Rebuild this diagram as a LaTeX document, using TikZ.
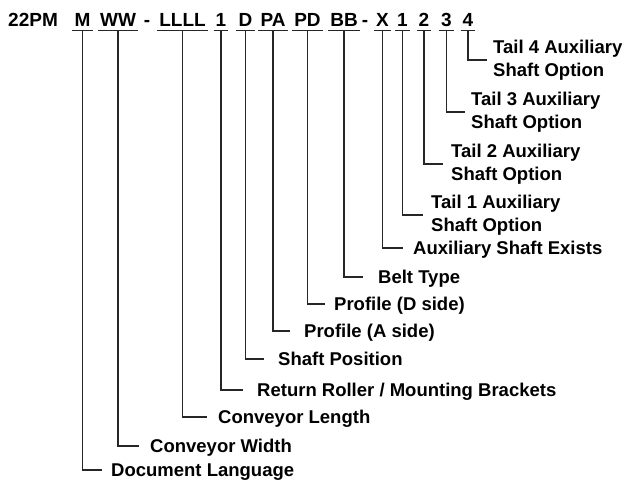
\documentclass[tikz,border=0pt]{standalone}
\usepackage{fontspec}
\setmainfont{Liberation Sans}
\begin{document}
\begin{tikzpicture}[x=1pt,y=-1pt,
  code/.style={font=\bfseries\fontsize{19}{22}\selectfont, inner sep=0pt, anchor=base},
  lbl/.style={font=\bfseries\fontsize{18.5}{23}\selectfont, inner sep=0pt, anchor=base west},
  lbltwo/.style={font=\bfseries\fontsize{18.5}{23}\selectfont, inner sep=0pt, anchor=west, align=left},
  ul/.style={line width=1.2pt, color=black!85},
  conn/.style={line width=1.2pt, color=black!85}]
\useasboundingbox (0,0) rectangle (624,487);
% top row
\node[code, anchor=base west] (pre) at (8,27) {22PM};
\node[code] (cM) at (82.5,27) {M};
\node[code] (cW) at (118,27) {WW};
\node[code] (d1) at (147,27) {-};
\node[code] (cL) at (182.5,27) {LLLL};
\node[code] (cR) at (221,27) {1};
\node[code] (cD) at (245.5,27) {D};
\node[code] (cPA) at (273,27) {PA};
\node[code] (cPD) at (307.5,27) {PD};
\node[code] (cB) at (344,27) {BB};
\node[code] (d2) at (365,27) {-};
\node[code] (cX) at (382.5,27) {X};
\node[code] (t1) at (402.5,27) {1};
\node[code] (t2) at (424,27) {2};
\node[code] (t3) at (446.5,27) {3};
\node[code] (t4) at (468,27) {4};
\foreach \n in {cM,cW,cL,cR,cD,cPA,cPD,cB,cX,t1,t2,t3,t4}
  \draw[ul] ([xshift=-2pt,yshift=-3.5pt]\n.base west) -- ([xshift=2pt,yshift=-3.5pt]\n.base east);
% labels
\node[lbltwo] (l4) at (493,60) {Tail 4 Auxiliary\\Shaft Option};
\node[lbltwo] (l3) at (471,112) {Tail 3 Auxiliary\\Shaft Option};
\node[lbltwo] (l2) at (451,164) {Tail 2 Auxiliary\\Shaft Option};
\node[lbltwo] (l1) at (431,215) {Tail 1 Auxiliary\\Shaft Option};
\node[lbl] (lX) at (413,254.6) {Auxiliary Shaft Exists};
\node[lbl] (lB) at (378,283.6) {Belt Type};
\node[lbl] (lPD) at (334,310.6) {Profile (D side)};
\node[lbl] (lPA) at (304,337.6) {Profile (A side)};
\node[lbl] (lD) at (278,365.6) {Shaft Position};
\node[lbl] (lR) at (257,396.6) {Return Roller / Mounting Brackets};
\node[lbl] (lL) at (218,423.6) {Conveyor Length};
\node[lbl] (lW) at (150,452.6) {Conveyor Width};
\node[lbl] (lM) at (111,476.6) {Document Language};
% connectors
\draw[conn] ([yshift=-3.5pt]t4.base) |- ([xshift=-6pt]l4.west);
\draw[conn] ([yshift=-3.5pt]t3.base) |- ([xshift=-6pt]l3.west);
\draw[conn] ([yshift=-3.5pt]t2.base) |- ([xshift=-8pt]l2.west);
\draw[conn] ([yshift=-3.5pt]t1.base) |- ([xshift=-8pt]l1.west);
\draw[conn] ([yshift=-3.5pt]cX.base) |- ([xshift=-10pt,yshift=6.6pt]lX.base west);
\draw[conn] ([yshift=-3.5pt]cB.base) |- ([xshift=-15pt,yshift=6.6pt]lB.base west);
\draw[conn] ([yshift=-3.5pt]cPD.base) |- ([xshift=-9pt,yshift=6.6pt]lPD.base west);
\draw[conn] ([yshift=-3.5pt]cPA.base) |- ([xshift=-14pt,yshift=6.6pt]lPA.base west);
\draw[conn] ([yshift=-3.5pt]cD.base) |- ([xshift=-14pt,yshift=6.6pt]lD.base west);
\draw[conn] ([yshift=-3.5pt]cR.base) |- ([xshift=-14pt,yshift=6.6pt]lR.base west);
\draw[conn] ([yshift=-3.5pt]cL.base) |- ([xshift=-11pt,yshift=6.6pt]lL.base west);
\draw[conn] ([yshift=-3.5pt]cW.base) |- ([xshift=-11pt,yshift=6.6pt]lW.base west);
\draw[conn] ([yshift=-3.5pt]cM.base) |- ([xshift=-9pt,yshift=6.6pt]lM.base west);
\end{tikzpicture}
\end{document}
